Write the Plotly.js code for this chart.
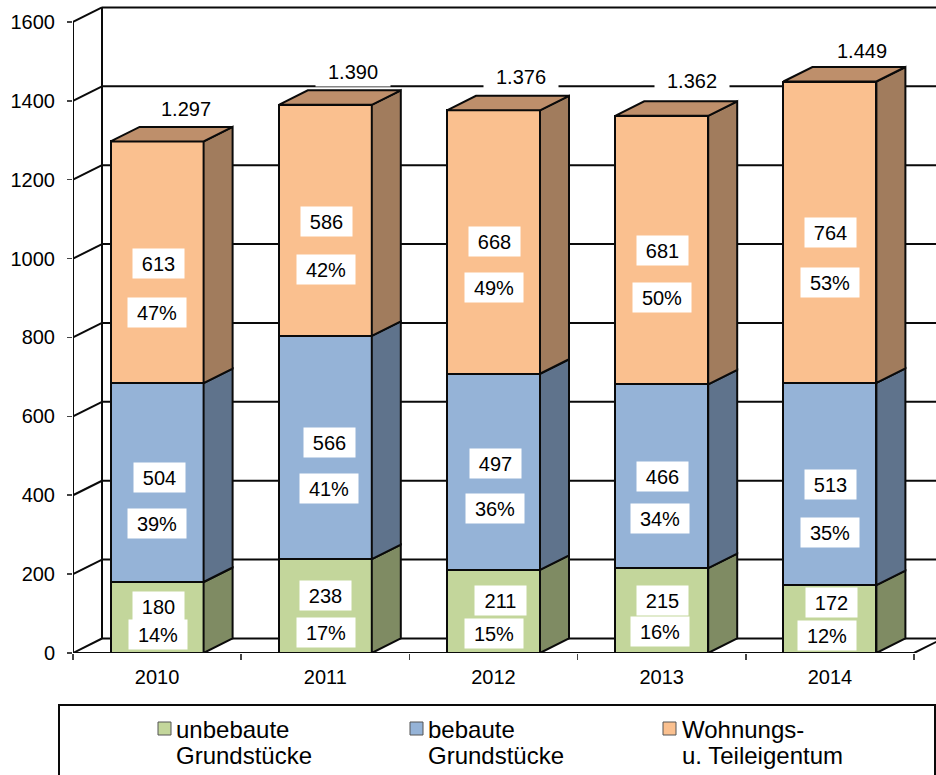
<!DOCTYPE html>
<html>
<head>
<meta charset="utf-8">
<script src="https://cdn.plot.ly/plotly-3.0.1.min.js"></script>
<style>html,body{margin:0;padding:0;background:#fff;overflow:hidden}#c{width:936px;height:775px}</style>
</head>
<body>
<div id="c"></div>
<script>
// ---- data ----
const years = ['2010', '2011', '2012', '2013', '2014'];
const unbebaute = [180, 238, 211, 215, 172];
const bebaute = [504, 566, 497, 466, 513];
const wohnungen = [613, 586, 668, 681, 764];
const totalLabels = ['1.297', '1.390', '1.376', '1.362', '1.449'];
const pctUnbebaute = ['14%', '17%', '15%', '16%', '12%'];
const pctBebaute = ['39%', '41%', '36%', '34%', '35%'];
const pctWohnungen = ['47%', '42%', '49%', '50%', '53%'];
const seriesNames = ['unbebaute Grundstücke', 'bebaute Grundstücke', 'Wohnungs- u. Teileigentum'];
const legendLines = [['unbebaute', 'Grundstücke'], ['bebaute', 'Grundstücke'], ['Wohnungs-', 'u. Teileigentum']];

// ---- label placement in the picture (pixels), kept apart from the values ----
const posCount = [
  [[158,606],[325,595],[500,600],[662,600],[831,602]],
  [[159,477],[329,442],[495,463],[662,476],[830,484]],
  [[158,263],[326,221],[494,241],[662,250],[830,232]]];
const posPct = [
  [[158,634],[326,632],[494,633],[660,631],[827,635]],
  [[157,523],[329,488],[495,508],[660,518],[830,532]],
  [[157,312],[326,269],[494,287],[662,297],[830,282]]];
const posTotal = [[186,108],[353,71],[521,76],[692,80],[862,50]];

// ---- styling ----
const FONT = 'Liberation Sans, Arial, sans-serif';
const front = ['#C3D69B', '#95B3D7', '#FAC08F'];
const side = ['#7F8B63', '#5F738C', '#A17C5D'];
const topFace = '#BE8F6B';
const INK = '#0a0a0a';
const X0 = 73, Y0 = 653, PXU = 168.2, PYU = 0.3944, W = 936, H = 775;
const DX = 29 / PXU, DY = 14.5 / PYU, BARW = 93 / PXU;
const N = years.length, TOP = 1600;

const dataX = px => (px - X0) / PXU;
const dataY = py => (Y0 - py) / PYU;
const paperX = px => (px - X0) / (W - X0);
const paperY = py => (Y0 - py) / Y0;

const centers = years.map((_, i) => i + 0.5);
const stacks = [unbebaute, bebaute, wohnungen];

const traces = stacks.map((vals, s) => ({
  type: 'bar', name: seriesNames[s], x: centers, y: vals, width: BARW,
  marker: {color: front[s], line: {color: INK, width: 2}},
  cliponaxis: false, hoverinfo: 'y+name', showlegend: false
}));

// depth faces derived from the stacked values
function sidePoly(s) {
  const xs = [], ys = [];
  centers.forEach((c, i) => {
    let b = 0;
    for (let k = 0; k < s; k++) b += stacks[k][i];
    const t = b + stacks[s][i], r = c + BARW / 2;
    xs.push(r, r + DX, r + DX, r, r, null);
    ys.push(b, b + DY, t + DY, t, b, null);
  });
  return {type: 'scatter', mode: 'lines', x: xs, y: ys, fill: 'toself', fillcolor: side[s],
    line: {color: INK, width: 2}, cliponaxis: false, hoverinfo: 'skip', showlegend: false};
}
[0, 1, 2].forEach(s => traces.push(sidePoly(s)));

const tx = [], ty = [];
centers.forEach((c, i) => {
  const T = unbebaute[i] + bebaute[i] + wohnungen[i], l = c - BARW / 2, r = c + BARW / 2;
  tx.push(l, l + DX, r + DX, r, l, null);
  ty.push(T, T + DY, T + DY, T, T, null);
});
traces.push({type: 'scatter', mode: 'lines', x: tx, y: ty, fill: 'toself', fillcolor: topFace,
  line: {color: INK, width: 2}, cliponaxis: false, hoverinfo: 'skip', showlegend: false});

// floor front edge and left wall edge
traces.push({type: 'scatter', mode: 'lines', x: [0, 0, N, N + DX], y: [TOP, 0, 0, DY],
  line: {color: INK, width: 2}, cliponaxis: false, hoverinfo: 'skip', showlegend: false});

// back wall
const shapes = [];
const line = (x0, y0, x1, y1) => shapes.push({type: 'line', layer: 'below', xref: 'x', yref: 'y',
  x0, y0, x1, y1, line: {color: INK, width: 2}});
for (let v = 0; v <= TOP; v += 200) {
  line(0, v, DX, v + DY);
  line(DX, v + DY, N + DX, v + DY);
}
line(DX, DY, DX, TOP + DY);

// legend frame and swatches
shapes.push({type: 'rect', xref: 'paper', yref: 'paper', x0: paperX(59), x1: paperX(935),
  y0: paperY(800), y1: paperY(705), line: {color: INK, width: 2}, fillcolor: 'rgba(0,0,0,0)'});

const annotations = [];
const box = (text, p, w) => annotations.push({text, xref: 'x', yref: 'y', x: dataX(p[0]), y: dataY(p[1]),
  showarrow: false, bgcolor: '#fff', width: w, height: 29, align: 'center', valign: 'middle', borderpad: 0,
  font: {family: FONT, size: 20, color: '#000'}});
const pctArrays = [pctUnbebaute, pctBebaute, pctWohnungen];
stacks.forEach((vals, s) => vals.forEach((v, i) => {
  box(String(v), posCount[s][i], 51);
  box(pctArrays[s][i], posPct[s][i], 58);
}));
totalLabels.forEach((t, i) => box(t, posTotal[i], 74));

const swatchX = [158, 410, 663], textX = [176, 428, 682];
legendLines.forEach((ls, s) => {
  shapes.push({type: 'rect', xref: 'paper', yref: 'paper', x0: paperX(swatchX[s]), x1: paperX(swatchX[s] + 13),
    y0: paperY(735), y1: paperY(722), fillcolor: front[s], line: {color: '#555', width: 1}});
  ls.forEach((t, k) => annotations.push({text: t, xref: 'paper', yref: 'paper', x: paperX(textX[s]),
    y: paperY(k ? 755 : 729), xanchor: 'left', yanchor: 'middle', xshift: -1, showarrow: false, borderpad: 0,
    font: {family: FONT, size: 24, color: '#000'}}));
});

const layout = {
  width: W, height: H, autosize: false,
  margin: {l: X0, r: 0, t: 0, b: H - Y0, pad: 0},
  paper_bgcolor: '#fff', plot_bgcolor: '#fff',
  barmode: 'stack', showlegend: false, hovermode: 'closest',
  font: {family: FONT, size: 20, color: '#000'},
  xaxis: {
    range: [0, (W - X0) / PXU], showgrid: false, zeroline: false, showline: false,
    tickmode: 'array', tickvals: centers, ticktext: years, ticks: '', ticklabelstandoff: 10,
    tickfont: {family: FONT, size: 20, color: '#000'},
    minor: {tickmode: 'array', tickvals: [0, 1, 2, 3, 4, 5], ticks: 'outside', ticklen: 6, tickwidth: 1.5, tickcolor: '#444', showgrid: false}
  },
  yaxis: {
    range: [0, Y0 / PYU], showgrid: false, zeroline: false, showline: false,
    tickmode: 'array', tickvals: [0, 200, 400, 600, 800, 1000, 1200, 1400, 1600],
    ticks: 'outside', ticklen: 5, tickwidth: 1.5, tickcolor: '#444', ticklabelstandoff: 8,
    tickfont: {family: FONT, size: 20, color: '#000'}
  },
  shapes, annotations
};
Plotly.newPlot('c', traces, layout, {displayModeBar: false, staticPlot: true});
</script>
</body>
</html>
